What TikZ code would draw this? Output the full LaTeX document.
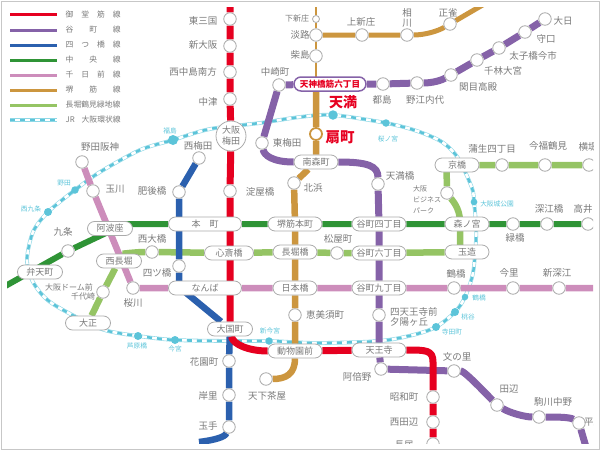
\documentclass[tikz,border=0pt]{standalone}
\usepackage{fontspec}
\setmainfont{Noto Sans CJK JP}
\usepackage{tikz}
\usetikzlibrary{shapes, % for the rounded rectangle
                backgrounds}
\definecolor{MidoCol}{HTML}{E60020}
\definecolor{TaniCol}{HTML}{8562A8}
\definecolor{YotsuCol}{HTML}{2B60AE}
\definecolor{ChuoCol}{HTML}{2F9436}
\definecolor{SenCol}{HTML}{CD8DBB}
\definecolor{SakaiCol}{HTML}{CC963F}
\definecolor{NagaCol}{HTML}{95C464}
\definecolor{JrCol}{HTML}{5CC4D9}
\definecolor{JrPale}{HTML}{8FD8E6}
\definecolor{InkCol}{HTML}{7A7A7A}
\definecolor{RimCol}{HTML}{ABABAB}
\newcommand{\MapClip}{\clip (7,7) rectangle (593,443);}

\begin{document}
\begin{tikzpicture}[x=1pt,y=-1pt,
                    Stop/.style={draw=RimCol,line width=.8,circle,fill=white,inner sep=0,minimum size=12.5},
                    Pill/.style={draw=RimCol,line width=.8,rounded rectangle,fill=white,inner sep=0,minimum height=14,
                                 text=InkCol,font=\fontsize{9}{10}\selectfont},
                    Cap/.style={text=InkCol,inner sep=0,font=\fontsize{9.5}{11}\selectfont},
                    SmallCap/.style={text=InkCol,inner sep=0,font=\fontsize{7}{8}\selectfont},
                    LegCap/.style={text=InkCol,inner sep=0,anchor=west,font=\fontsize{7.8}{9}\selectfont},
                    JrStop/.style={circle,fill=JrCol,inner sep=0},
                    JrCap/.style={text=JrCol,inner sep=0,font=\fontsize{6.7}{7}\selectfont},
                    Hot/.style={text=MidoCol,inner sep=0,font=\bfseries},
                    Track/.style={line width=6.5,line join=round},
                    RingLine/.style={preaction={draw=JrPale,line width=3.8},draw=white,line width=2.6,
                                     postaction={draw=JrCol,line width=2.6,dash pattern=on 5 off 5}}
                    ]
    \useasboundingbox (0,0) rectangle (600,450);
    \draw[color=black!22,line width=1] (1,1) rectangle (599,449);

    % LEGEND %
    \foreach \nm/\py/\col/\txt in {
        a/14.7/MidoCol/{御\hfill 堂\hfill 筋\hfill 線},
        b/30/TaniCol/{谷\hfill 町\hfill 線},
        c/45/YotsuCol/{四\hfill つ\hfill 橋\hfill 線},
        d/60/ChuoCol/{中\hfill 央\hfill 線},
        e/75/SenCol/{千\hfill 日\hfill 前\hfill 線},
        f/90/SakaiCol/{堺\hfill 筋\hfill 線},
        g/105/NagaCol/{長堀鶴見緑地線}}{
    \coordinate (Leg\nm-a) at (10,\py);
    \coordinate (Leg\nm-b) at (57,\py);
    \draw[line width=3,\col] (Leg\nm-a) -- (Leg\nm-b);
    \node[LegCap] (Leg\nm-t) at (65.5,\py) {\makebox[55pt][s]{\txt}};
    }
    \coordinate (Legh-a) at (10,120);
    \coordinate (Legh-b) at (57,120);
    \draw[RingLine] (Legh-a) -- (Legh-b);
    \node[LegCap] (Legh-t) at (65.5,120) {\makebox[55pt][s]{JR\hfill 大阪環状線}};

    \begin{scope}
    \MapClip

    % STOPS %
    \foreach \nm/\px/\py/\lx/\ly/\txt in {
        higashimikuni/230/19/203/21/東三国, shinosaka/230/46/203/45/新大阪,
        nishinakajima/230/72/193/72/西中島南方, nakatsu/230/99/208/102/中津,
        yodoyabashi/230/191/260/192/淀屋橋, showacho/433/397/404/397/昭和町,
        nishitanabe/433/422/404/422/西田辺, nagai/433/444/404/445/長居,
        nishiumeda/199/158/198/146/西梅田, higobashi/179/192/152/191/肥後橋,
        yotsubashi/179/266/157/273/四ツ橋, hanazono/229/361/204/362/花園町,
        kishinosato/229/395/208/396/岸里, tamade/229/427/208/426/玉手,
        nakazaki/279/85/275/72/中崎町, higashiumeda/262/143/287/143/東梅田,
        miyakojima/383/84/382/100/都島, noe/417/83/425/100/野江内代,
        sekime/451/75/478/87/関目高殿, senbayashi/477/60/503/71/千林大宮,
        taishibashi/499/48/533/56/太子橋今市, moriguchi/525/32/546/39/守口,
        dainichi/545/19/563/21/大日, tenmabashi/378/184/400/176/天満橋,
        abeno/381/369/357/377/阿倍野, fuminosato/454/371/457/357/文の里,
        tanabe/497/405/509/389/田辺, komagawa/539/417/553/402/駒川中野,
        awaji/316/35/300/35/淡路, kunijima/316/56/300/55/柴島,
        kamishinjo/362/35/361/22/上新庄, shojaku/450/24/448/13/正雀,
        kitahama/294/183/313/188/北浜, ebisucho/295/315/325/315/恵美須町,
        tengachaya/266/379/267/396/天下茶屋,
        kujo/68/251/63/232/九条, midoribashi/513/224/515/238/緑橋,
        fukaebashi/547/224/549/209/深江橋, takaida/588/224/583/209/高井,
        nodahanshin/82/162/100/147/野田阪神, tamagawa/93/191/115/189/玉川,
        sakuragawa/133/288/133/303/桜川, tsuruhashi/454/288/456/274/鶴橋,
        imazato/513/288/509/273/今里, shinfukae/559/288/557/273/新深江,
        nishiohashi/152/252/152/239/西大橋, domemae/103/292/83/296/{},
        matsuyamachi/337/253/338/239/松屋町,
        gamo/502/165/492/149/蒲生四丁目, imafuku/545/165/548/146/今福鶴見,
        yokozutsumi/589/165/588/147/横堤}{
    \node[Stop] (\nm) at (\px,\py) {};
    \node[Cap] (\nm-t) at (\lx,\ly) {\txt};
    }
    \node[Stop,minimum size=7] (shimoshinjo) at (316,19) {};
    \node[SmallCap,font=\fontsize{8}{9}\selectfont] (shimoshinjo-t) at (297,18) {下新庄};
    \node[Stop] (aikawa) at (407,35) {};
    \node[Cap,align=center,font=\fontsize{9.5}{10}\selectfont] (aikawa-t) at (407,18) {相\\川};
    \node[Stop] (shitennoji) at (379,315) {};
    \node[Cap,anchor=west,align=left,font=\fontsize{9.5}{10}\selectfont] (shitennoji-t) at (390,317) {四天王寺前\\夕陽ヶ丘};
    \node[Stop] (hirano) at (579,423) {};
    \node[Cap,anchor=west] (hirano-t) at (584,422) {平野};
    \node[Stop] (obp) at (447,193) {};
    \node[SmallCap,anchor=west,align=left,font=\fontsize{7}{11}\selectfont] (obp-t) at (413,200) {大阪\\ビジネス\\パーク};
    \node[SmallCap,font=\fontsize{8}{9}\selectfont] (dome-t) at (69,287) {大阪ドーム前};
    \node[SmallCap,font=\fontsize{8}{9}\selectfont] (chiyozaki-t) at (83,296) {千代崎};

    % PILLS %
    \foreach \nm/\px/\py/\pw/\txt in {
        honmachi/205/224/73/本　町, namba/205/288/73/なんば, shinsaibashi/229/253/49/心斎橋,
        daikoku/230/329/45/大国町, awaza/110/228.5/45/阿波座, bentencho/40/272/45/弁天町,
        nishinagahori/119/261/45/西長堀, taisho/88/323/45/大正, minamimori/316/162/44/南森町,
        sakaihonmachi/295/224/54/堺筋本町, nagahoribashi/295/252/44/長堀橋, nipponbashi/295/288/44/日本橋,
        dobutsu/295/351/54/動物園前, tani4/379/224/54/谷町四丁目, tani6/379/253/54/谷町六丁目,
        tani9/379/288/54/谷町九丁目, tennoji/379/350/54/天王寺, kyobashi/457/165/44/京橋,
        morinomiya/467/224/44/森ノ宮, tamatsukuri/467/252/44/玉造}{
    \node[Pill,minimum width=\pw] (\nm) at (\px,\py) {\txt};
    }

    \node[Pill,draw=TaniCol,line width=1.5,minimum width=72,text=MidoCol,font=\fontsize{8.6}{10}\selectfont\bfseries] (tenroku) at (330,84) {天神橋筋六丁目};
    \node[Stop,minimum size=30,align=center,font=\fontsize{9}{11}\selectfont,text=InkCol] (umeda) at (231,136) {大阪\\梅田};
    \node[Stop,draw=SakaiCol,line width=1.8,minimum size=12] (ogimachi) at (316,134) {};
    \node[Hot,font=\fontsize{14.5}{16}\selectfont\bfseries] (ogimachi-t) at (340,137) {扇町};
    \node[Hot,font=\fontsize{14}{16}\selectfont\bfseries] (tenma-t) at (343,102) {天満};

    % JR STOPS %
    \foreach \nm/\sz/\px/\py/\lx/\ly/\txt in {
        fukushima/10/173/140/170/131/福島, jrnoda/7.5/75/190/64/183/野田,
        nishikujo/8/48/212/31/209/西九条, tenma/9.5/333/115/333/115/{},
        sakuranomiya/7.5/386/123/388/139/桜ノ宮, jokoen/6.7/474/202/497/204/大阪城公園,
        jrtsuruhashi/6.5/465/297/479/298/鶴橋, momodani/8/455/312/468/317/桃谷,
        teradacho/8/436/327/452/332/寺田町, shinimamiya/7.5/269/341/270/331/新今宮,
        imamiya/8/175/340/175/349/今宮, ashiharabashi/8/138/336/137/346/芦原橋}{
    \node[JrStop,minimum size=\sz] (\nm) at (\px,\py) {};
    \node[JrCap] (\nm-t) at (\lx,\ly) {\txt};
    }
    \end{scope}

    % TRACKS %
    \begin{scope}[on background layer]
    \MapClip

    \coordinate (mA) at (230,3);
    \coordinate (mB) at (433,362);
    \coordinate (yA) at (179,287);
    \coordinate (yB) at (199,442);
    \coordinate (tA) at (586,447);
    \coordinate (sA) at (316,3);
    \coordinate (sB) at (316,84);
    \coordinate (sC) at (486,3);
    \coordinate (cA) at (0,289);
    \coordinate (cB) at (125,224);
    \coordinate (cC) at (600,224);
    \coordinate (pA) at (600,288);
    \coordinate (nA) at (460,252);
    \coordinate (nB) at (460,222);
    \coordinate (nC) at (446.5,165);
    \coordinate (nD) at (600,165);

    % loop line
    \coordinate (r1) at (50,302);
    \coordinate (r2) at (33,282);
    \coordinate (r3) at (27,260);
    \coordinate (r4) at (33,232);
    \coordinate (r5) at (100,172);
    \coordinate (r6) at (140,150);
    \coordinate (r7) at (210,129);
    \coordinate (r8) at (260,123);
    \coordinate (r9) at (300,117);
    \coordinate (r10) at (417,131);
    \coordinate (r11) at (442,142);
    \coordinate (r12) at (458,158);
    \coordinate (r13) at (472,188);
    \coordinate (r14) at (476,224);
    \coordinate (r15) at (476,240);
    \coordinate (r16) at (473,273);
    \coordinate (r17) at (413,335);
    \coordinate (r18) at (379,341);
    \coordinate (r19) at (317,343);
    \coordinate (r20) at (230,341);
    \coordinate (r21) at (108,331);
    \draw[RingLine] plot[smooth cycle,tension=.5] coordinates {
        (taisho) (r1) (r2) (r3) (r4) (nishikujo) (jrnoda) (r5) (r6) (fukushima) (r7) (r8) (r9) (tenma)
        (sakuranomiya) (r10) (r11) (r12) (r13) (jokoen) (r14) (r15) (r16) (jrtsuruhashi) (momodani) (teradacho)
        (r17) (r18) (r19) (shinimamiya) (r20) (imamiya) (ashiharabashi) (r21)};

    \draw[Track,SakaiCol,line width=2.5] (sA) -- (shimoshinjo) -- (awaji) -- (kunijima) -- (sB);
    \draw[Track,SakaiCol,line width=5] (awaji) -- (kamishinjo) -- (aikawa)
        .. controls (425,35) and (438,31) .. (shojaku) -- (sC);
    \draw[Track,SakaiCol] (sB) -- (ogimachi) -- (minamimori) -- (kitahama) -- (sakaihonmachi)
        -- (nagahoribashi) -- (nipponbashi) -- (ebisucho) -- (dobutsu)
        .. controls (295,374) and (286,379) .. (tengachaya);

    \draw[Track,ChuoCol,line width=6] (cA) -- (kujo) -- (cB) -- (honmachi) -- (sakaihonmachi) -- (tani4)
        -- (morinomiya) -- (midoribashi) -- (fukaebashi) -- (takaida) -- (cC);

    \draw[Track,NagaCol] (taisho) -- (domemae) -- (nishinagahori)
        .. controls (122,254) and (135,252) .. (nishiohashi) -- (shinsaibashi) -- (nagahoribashi)
        -- (matsuyamachi) -- (tani6) -- (tamatsukuri);
    \draw[Track,NagaCol] (nA) -- (nB) .. controls (460,208) and (452,200) .. (obp) -- (nC);
    \draw[Track,NagaCol] (kyobashi) -- (gamo) -- (imafuku) -- (yokozutsumi) -- (nD);

    \draw[Track,SenCol] (nodahanshin) -- (tamagawa) -- (sakuragawa) -- (namba) -- (nipponbashi)
        -- (tani9) -- (tsuruhashi) -- (imazato) -- (shinfukae) -- (pA);

    \draw[Track,YotsuCol] (nishiumeda) -- (higobashi) -- (yotsubashi) -- (yA) -- (daikoku) -- (hanazono)
        -- (kishinosato) -- (tamade) .. controls (225,437) and (215,440) .. (yB);

    \draw[Track,TaniCol,line width=7] (dainichi) -- (moriguchi) -- (taishibashi) -- (senbayashi) -- (sekime)
        .. controls (438,82) and (428,83) .. (noe) -- (miyakojima) -- (tenroku) -- (nakazaki)
        -- (higashiumeda) .. controls (264,155) and (272,162) .. (minamimori)
        .. controls (368,162) and (378,166) .. (tenmabashi) -- (tani4) -- (tani6) -- (tani9)
        -- (shitennoji) -- (tennoji) -- (abeno) -- (fuminosato)
        .. controls (463,371) and (470,377) .. (tanabe)
        .. controls (510,413) and (525,417) .. (komagawa)
        .. controls (555,417) and (570,417) .. (hirano) -- (tA);

    \draw[Track,MidoCol,line width=7] (mA) -- (higashimikuni) -- (shinosaka) -- (nishinakajima) -- (nakatsu) -- (umeda)
        -- (yodoyabashi) -- (daikoku) .. controls (233,345) and (250,351) .. (dobutsu) -- (tennoji)
        .. controls (426,350) and (433,350) .. (mB) -- (showacho) -- (nishitanabe) -- (nagai);
    \end{scope}

\end{tikzpicture}
\end{document}
